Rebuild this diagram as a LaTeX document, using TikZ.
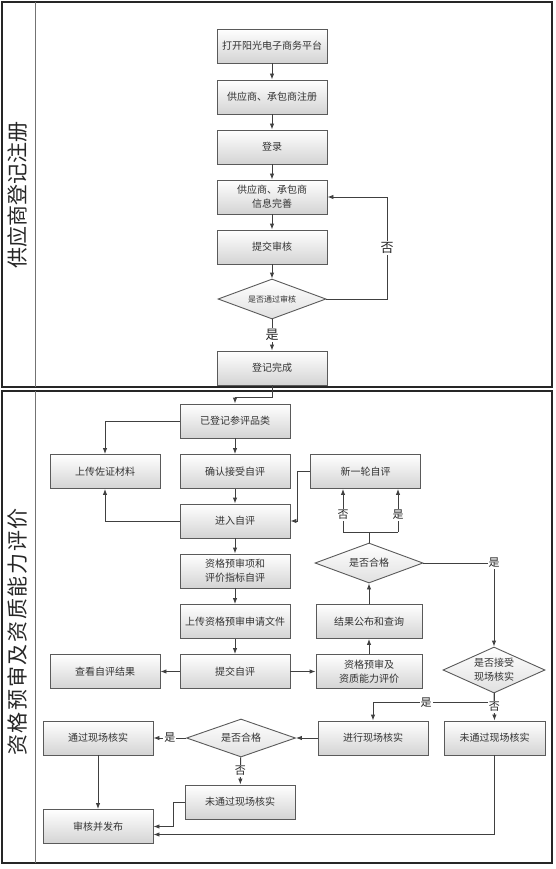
\documentclass[tikz,border=0pt]{standalone}
\usepackage{fontspec}
\setmainfont{Noto Sans CJK SC}
\usetikzlibrary{arrows.meta,shapes.geometric,calc}
\definecolor{linec}{HTML}{404040}
\definecolor{boxline}{HTML}{5A5A5A}
\definecolor{txt}{HTML}{333333}
\begin{document}
\begin{tikzpicture}[x=1pt,y=-1pt,
  box/.style={draw=boxline, line width=0.9pt, top color=white, bottom color=black!17, minimum width=110pt, minimum height=34pt, inner sep=1pt, align=center, font=\fontsize{10}{14}\selectfont, text=txt},
  dia/.style={diamond, draw=boxline, line width=0.9pt, top color=white, bottom color=black!12, inner sep=0pt, aspect=2.5, align=center, font=\fontsize{10}{14}\selectfont, text=txt},
  arr/.style={draw=linec, line width=0.9pt, -{Latex[length=6pt,width=4.5pt]}},
  ln/.style={draw=linec, line width=0.9pt},
  lbl/.style={fill=white, inner sep=1pt, font=\fontsize{11}{11}\selectfont, text=black!85},
  biglbl/.style={lbl, font=\fontsize{13}{13}\selectfont},
  lane/.style={draw=black!85, line width=1.4pt},
  divider/.style={draw=black!55, line width=1pt},
  lanetitle/.style={rotate=90, font=\fontsize{21}{21}\selectfont, text=black!85}
]
\useasboundingbox (0,0) rectangle (555,869);
% lanes
\draw[lane] (2,2) rectangle (552,387);
\draw[lane] (2,391) rectangle (552,863);
\draw[divider] (35,2) -- (35,387);
\draw[divider] (35,391) -- (35,863);
\node[lanetitle] (t1) at (18,195) {供应商登记注册};
\node[lanetitle, font=\fontsize{21}{21}\selectfont\addfontfeature{LetterSpace=8}] (t2) at (18,632) {资格预审及资质能力评价};

% lane 1
\node[box] (n1) at (272,46) {打开阳光电子商务平台};
\node[box] (n2) at (272,97) {供应商、承包商注册};
\node[box] (n3) at (272,147) {登录};
\node[box] (n4) at (272,197) {供应商、承包商\\信息完善};
\node[box] (n5) at (272,247) {提交审核};
\node[dia, minimum width=108pt, minimum height=40pt, font=\fontsize{8}{8}\selectfont] (d1) at (272,299) {是否通过审核};
\node[box] (n6) at (272,368) {登记完成};
\coordinate (k1) at (387,197);

\draw[arr] (n1) -- (n2);
\draw[arr] (n2) -- (n3);
\draw[arr] (n3) -- (n4);
\draw[arr] (n4) -- (n5);
\draw[arr] (n5) -- (d1);
\draw[arr] (d1) -- node[biglbl]{是} (n6);
\draw[arr] (d1.east) -| node[biglbl, pos=0.75]{否} (k1) -- (n4.east);

% lane 2
\node[box] (a1) at (235,421) {已登记参评品类};
\node[box] (b1) at (105,471.5) {上传佐证材料};
\node[box] (b2) at (235,471.5) {确认接受自评};
\node[box] (b3) at (365.5,471.5) {新一轮自评};
\node[box] (c2) at (235,521) {进入自评};
\node[box] (c3) at (235,571) {资格预审项和\\评价指标自评};
\node[box] (c4) at (235,621.5) {上传资格预审申请文件};
\node[box] (c5) at (235,671.5) {提交自评};
\node[box] (b5) at (105,671.5) {查看自评结果};
\node[box, minimum width=106pt] (d5) at (369,671.5) {资格预审及\\资质能力评价};
\node[box, minimum width=106pt] (d4) at (369,621.5) {结果公布和查询};
\node[dia, minimum width=108pt, minimum height=40pt] (q1) at (369,563) {是否合格};
\node[dia, minimum width=102pt, minimum height=46pt] (q2) at (494,670) {是否接受\\现场核实};
\node[box, minimum width=101pt] (e3) at (494.5,738) {未通过现场核实};
\node[box] (e2) at (373,738) {进行现场核实};
\node[dia, minimum width=109pt, minimum height=38pt] (q3) at (241,738) {是否合格};
\node[box] (e1) at (98,738) {通过现场核实};
\node[box] (f2) at (240,802) {未通过现场核实};
\node[box] (f1) at (98,826.5) {审核并发布};

\coordinate (bL) at (343,532);
\coordinate (bR) at (398,532);

\draw[arr] (n6.south) -- ++(0,12) -| (a1.north);
\draw[arr] (a1.west) -| (b1.north);
\draw[arr] (a1) -- (b2);
\draw[arr] (b2) -- (c2);
\draw[arr] (c2.west) -| (b1.south);
\draw[arr] (b3.west) -- ++(-13,0) |- (c2.east);
\draw[arr] (c2) -- (c3);
\draw[arr] (c3) -- (c4);
\draw[arr] (c4) -- (c5);
\draw[arr] (c5) -- (b5);
\draw[arr] (c5) -- (d5);
\draw[arr] (d5) -- (d4);
\draw[arr] (d4) -- (q1);
\draw[ln] (q1.north) -- (q1.north |- bL);
\draw[ln] (bL) -- (bR);
\draw[arr] (bL) -- node[lbl, pos=0.4]{否} (bL |- b3.south);
\draw[arr] (bR) -- node[lbl, pos=0.4]{是} (bR |- b3.south);
\draw[arr] (q1.east) -| node[lbl, pos=0.5]{是} (q2.north);
\draw[arr] (q2.south) -- ++(0,9) -| node[lbl, pos=0.28]{是} (e2.north);
\draw[arr] (q2.south) -- node[lbl, pos=0.5]{否} (e3.north);
\draw[arr] (e2) -- (q3);
\draw[arr] (q3) -- node[lbl]{是} (e1);
\draw[arr] (q3) -- node[lbl]{否} (f2);
\draw[arr] (e1) -- (f1);
\draw[arr] (f2.west) -- ++(-11,0) |- (f1.east);
\draw[arr] (e3.south) |- ($(f1.east)+(0,8)$);
\end{tikzpicture}
\end{document}
